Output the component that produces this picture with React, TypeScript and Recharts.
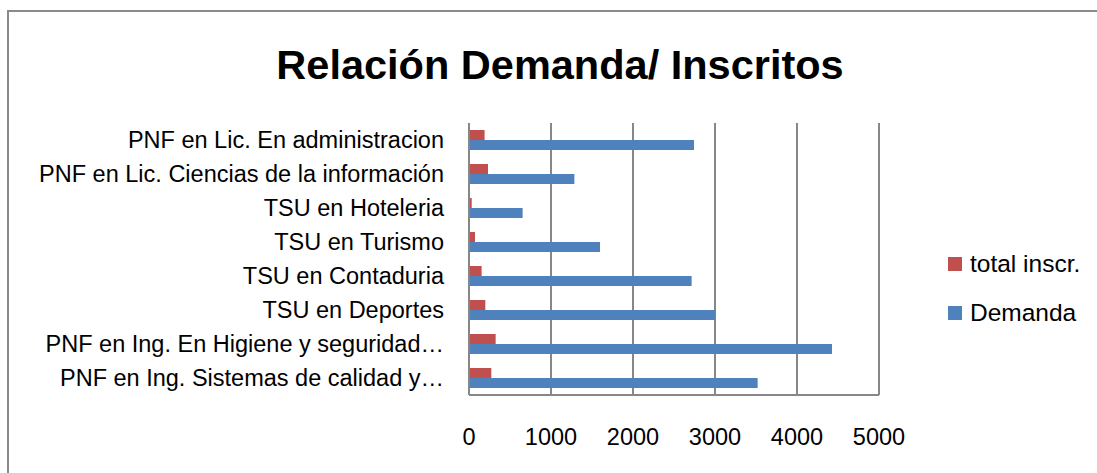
import React from "react";
import {
  BarChart,
  Bar,
  XAxis,
  YAxis,
  CartesianGrid,
} from "recharts";

const categories = [
  "PNF en Lic. En administracion",
  "PNF en Lic. Ciencias de la información",
  "TSU en Hoteleria",
  "TSU en Turismo ",
  "TSU en Contaduria",
  "TSU en Deportes",
  "PNF en Ing. En Higiene y seguridad…",
  "PNF en Ing. Sistemas de calidad y…",
];
const inscritos = [190, 232, 33, 73, 154, 199, 325, 272];
const demanda = [2744, 1285, 654, 1598, 2715, 3004, 4427, 3520];
const xTicks = [0, 1000, 2000, 3000, 4000, 5000];
const seriesNames = ["total inscr.", "Demanda"];
const seriesColors = ["#C0504D", "#4F81BD"];

const data = categories.map((name, i) => ({
  name,
  inscritos: inscritos[i],
  demanda: demanda[i],
}));

const FONT = "'Liberation Sans', Arial, sans-serif";
const GRID = "#878787";

export default function App() {
  return (
    <div
      style={{
        position: "fixed",
        top: 0,
        left: 0,
        width: 1097,
        height: 473,
        overflow: "hidden",
        background: "#fff",
        fontFamily: FONT,
      }}
    >
      {/* outer frame, runs off the right and bottom edge */}
      <div
        style={{
          position: "absolute",
          left: 7,
          top: 10,
          width: 1200,
          height: 600,
          border: "2px solid #8a8a8a",
          boxSizing: "border-box",
        }}
      />
      <div
        style={{
          position: "absolute",
          left: 260,
          top: 44,
          width: 600,
          textAlign: "center",
          fontSize: 41.5,
          lineHeight: 1,
          fontWeight: "bold",
          color: "#000",
        }}
      >
        Relación Demanda/ Inscritos
      </div>

      <div style={{ position: "absolute", left: 0, top: 0 }}>
        <BarChart
          width={1097}
          height={473}
          data={data}
          layout="vertical"
          margin={{ top: 123, right: 218, bottom: 0, left: 0 }}
          barCategoryGap={7}
          barGap={0}
        >
          <CartesianGrid
            horizontal={false}
            stroke={GRID}
            strokeWidth={2}
          />
          <XAxis
            type="number"
            domain={[0, 5000]}
            ticks={xTicks}
            height={78}
            axisLine={{ stroke: GRID, strokeWidth: 2 }}
            tickLine={false}
            tickSize={0}
            tickMargin={33}
            tick={{ fill: "#000", fontSize: 23.5, fontFamily: FONT }}
          />
          <YAxis
            type="category"
            dataKey="name"
            width={469}
            axisLine={{ stroke: GRID, strokeWidth: 2 }}
            tickLine={false}
            tickSize={0}
            tickMargin={25}
            interval={0}
            tick={{ fill: "#000", fontSize: 23.5, fontFamily: FONT }}
          />
          <Bar
            dataKey="inscritos"
            name={seriesNames[0]}
            fill={seriesColors[0]}
            isAnimationActive={false}
          />
          <Bar
            dataKey="demanda"
            name={seriesNames[1]}
            fill={seriesColors[1]}
            isAnimationActive={false}
          />
        </BarChart>
      </div>

      {/* legend */}
      {seriesNames.map((s, i) => (
        <div
          key={s}
          style={{
            position: "absolute",
            left: 948,
            top: 249 + i * 48.5,
            height: 30,
            display: "flex",
            alignItems: "center",
            fontSize: 24.5,
            color: "#000",
          }}
        >
          <span
            style={{
              display: "inline-block",
              width: 14,
              height: 14,
              background: seriesColors[i],
              marginRight: 8,
            }}
          />
          {s}
        </div>
      ))}
    </div>
  );
}
